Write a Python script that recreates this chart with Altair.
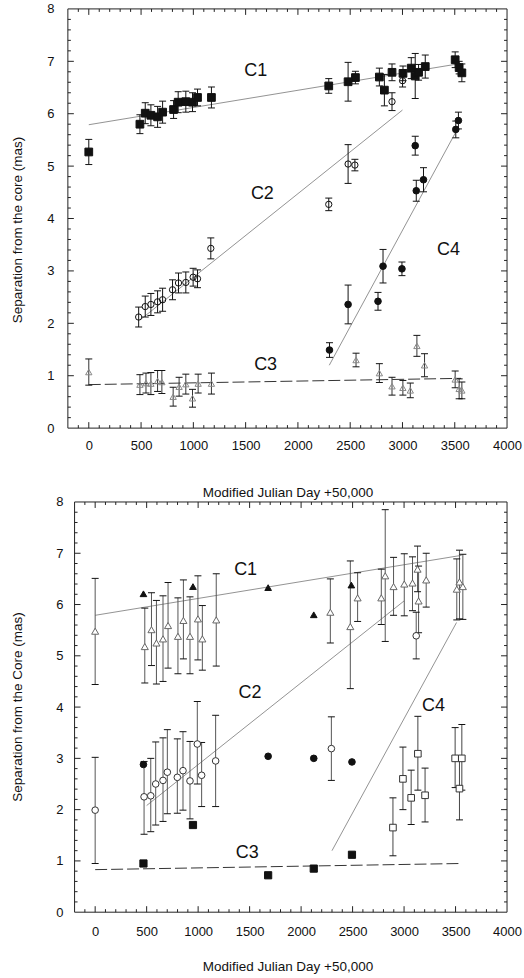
import altair as alt
import pandas as pd

FONT = "Liberation Sans"

# ---------------- axis tick values ----------------
x_label_values = [0, 500, 1000, 1500, 2000, 2500, 3000, 3500, 4000]
y_label_values = [0, 1, 2, 3, 4, 5, 6, 7, 8]
x_major_ticks = [0, 500, 1000, 1500, 2000, 2500, 3000, 3500]
x_minor_ticks = [v for v in range(-100, 4000, 100) if v % 500 != 0]
y_major_ticks = [1, 2, 3, 4, 5, 6, 7]
y_minor_ticks = [round(i * 0.2, 1) for i in range(1, 40) if i % 5 != 0]

# ---------------- top panel data ----------------
top_c1_x = [0, 489, 540, 594, 658, 706, 811, 855, 928, 992, 1040, 1173, 2295, 2480, 2550,
            2779, 2827, 2900, 3005, 3084, 3122, 3154, 3218, 3504, 3542, 3568]
top_c1_y = [5.27, 5.80, 6.01, 5.97, 5.94, 6.03, 6.08, 6.22, 6.23, 6.22, 6.31, 6.31, 6.53, 6.61, 6.69,
            6.70, 6.45, 6.79, 6.77, 6.87, 6.72, 6.79, 6.90, 7.03, 6.88, 6.78]
top_c1_e = [0.24, 0.18, 0.20, 0.20, 0.20, 0.21, 0.17, 0.20, 0.20, 0.18, 0.16, 0.20, 0.14, 0.37, 0.12,
            0.17, 0.30, 0.16, 0.14, 0.20, 0.43, 0.15, 0.22, 0.15, 0.12, 0.17]

top_c2_x = [477, 540, 594, 658, 706, 801, 858, 928, 998, 1040, 1167, 2295, 2480, 2545, 2900, 3001]
top_c2_y = [2.12, 2.32, 2.36, 2.41, 2.45, 2.64, 2.77, 2.78, 2.88, 2.85, 3.43, 4.27, 5.04, 5.02, 6.23, 6.63]
top_c2_e = [0.19, 0.20, 0.21, 0.21, 0.22, 0.19, 0.19, 0.20, 0.17, 0.17, 0.20, 0.12, 0.37, 0.11, 0.17, 0.12]

top_c4_x = [2302, 2480, 2766, 2814, 2995, 3122, 3132, 3201, 3510, 3535]
top_c4_y = [1.49, 2.36, 2.42, 3.09, 3.04, 5.39, 4.53, 4.74, 5.70, 5.87]
top_c4_e = [0.14, 0.37, 0.17, 0.32, 0.13, 0.18, 0.20, 0.23, 0.16, 0.16]

top_c3_x = [0, 489, 547, 594, 658, 699, 807, 864, 928, 992, 1046, 1173, 2556, 2779, 2900, 3004,
            3075, 3138, 3211, 3504, 3542, 3568]
top_c3_y = [1.07, 0.83, 0.86, 0.85, 0.90, 0.88, 0.60, 0.79, 0.84, 0.57, 0.85, 0.85, 1.30, 1.05, 0.80, 0.77,
            0.72, 1.57, 1.20, 0.93, 0.75, 0.72]
top_c3_e = [0.25, 0.19, 0.19, 0.21, 0.20, 0.22, 0.18, 0.18, 0.19, 0.17, 0.18, 0.20, 0.13, 0.18, 0.17, 0.14,
            0.14, 0.20, 0.22, 0.16, 0.19, 0.16]

# ---------------- bottom panel data ----------------
bot_otri_x = [0, 482, 547, 595, 659, 708, 804, 857, 921, 998, 1041, 1176, 2284, 2478, 2549, 2779, 2817,
              2898, 3002, 3082, 3131, 3141, 3215, 3512, 3538, 3571]
bot_otri_y = [5.48, 5.18, 5.51, 5.25, 5.33, 5.59, 5.38, 5.69, 5.38, 5.72, 5.33, 5.70, 5.85, 5.57, 6.13, 6.13,
              6.56, 6.35, 6.40, 6.42, 6.69, 6.07, 6.48, 6.30, 6.44, 6.35]
bot_otri_lo = [4.44, 4.47, 4.81, 4.45, 4.50, 4.76, 4.65, 4.94, 4.65, 4.92, 4.72, 4.80, 5.25, 4.36, 5.67, 5.61,
               5.28, 5.79, 5.78, 5.88, 6.25, 5.45, 5.95, 5.70, 5.72, 5.71]
bot_otri_hi = [6.51, 5.93, 6.23, 6.08, 6.17, 6.43, 6.13, 6.48, 6.15, 6.56, 5.98, 6.60, 6.50, 6.85, 6.62, 6.69,
               7.85, 6.92, 6.99, 6.93, 7.14, 6.75, 7.00, 6.89, 7.06, 6.98]

bot_ftri_x = [469, 950, 1680, 2123, 2488]
bot_ftri_y = [6.21, 6.35, 6.33, 5.80, 6.38]

bot_ocirc_x = [0, 475, 540, 588, 659, 701, 798, 853, 921, 992, 1034, 1170, 2294, 3118]
bot_ocirc_y = [1.99, 2.25, 2.27, 2.50, 2.57, 2.73, 2.63, 2.76, 2.56, 3.28, 2.67, 2.95, 3.19, 5.39]
bot_ocirc_lo = [0.95, 1.52, 1.57, 1.70, 1.77, 1.92, 1.93, 1.99, 1.82, 2.50, 2.06, 2.06, 2.57, 4.94]
bot_ocirc_hi = [3.02, 2.94, 3.00, 3.32, 3.40, 3.56, 3.38, 3.52, 3.33, 4.11, 3.31, 3.84, 3.81, 5.85]

bot_fcirc_x = [469, 1680, 2123, 2494]
bot_fcirc_y = [2.88, 3.04, 3.00, 2.93]

bot_osq_x = [2892, 2989, 3069, 3134, 3204, 3496, 3538, 3561]
bot_osq_y = [1.65, 2.60, 2.23, 3.09, 2.28, 3.00, 2.41, 3.00]
bot_osq_lo = [1.10, 2.00, 1.71, 2.38, 1.76, 2.43, 1.80, 2.38]
bot_osq_hi = [2.23, 3.22, 2.77, 3.82, 2.81, 3.60, 3.00, 3.66]

bot_fsq_x = [469, 950, 1680, 2123, 2494]
bot_fsq_y = [0.95, 1.70, 0.72, 0.85, 1.12]

# ---------------- linear fits (same in both panels) ----------------
fit_name = ["C1", "C2", "C4", "C3"]
fit_x0 = [0, 500, 2300, 0]
fit_x1 = [3560, 3000, 3510, 3560]
fit_y0 = [5.79, 2.08, 1.20, 0.83]
fit_y1 = [6.96, 6.07, 5.65, 0.95]

# ---------------- component labels ----------------
lab_text = ["C1", "C2", "C4", "C3"]
top_lab_x = [1596, 1660, 3440, 1691]
top_lab_y = [6.82, 4.47, 3.39, 1.20]
bot_lab_x = [1461, 1503, 3286, 1477]
bot_lab_y = [6.68, 4.28, 4.03, 1.16]

X_TITLE = "Modified Julian Day +50,000"


def sym(xs, ys, es):
    return pd.DataFrame({"x": xs, "y": ys,
                         "lo": [y - e for y, e in zip(ys, es)],
                         "hi": [y + e for y, e in zip(ys, es)]})


def asym(xs, ys, lo, hi):
    return pd.DataFrame({"x": xs, "y": ys, "lo": lo, "hi": hi})


def make_panel(W, H, xdom, frame_left, series, lab_x, lab_y, ytitle,
               xlab_pad, xtitle_pad, ylab_pad, ytitle_pad, ytitle_y):
    xs = alt.Scale(domain=xdom, nice=False, zero=False)
    ys = alt.Scale(domain=[0, 8], nice=False, zero=False)
    xaxis = alt.Axis(values=x_label_values, format="d", title=X_TITLE,
                     labelPadding=xlab_pad, titlePadding=xtitle_pad,
                     labelFlush=False, labelOverlap=False)
    yaxis = alt.Axis(values=y_label_values, format="d", title=ytitle,
                     labelPadding=ylab_pad, titlePadding=ytitle_pad, titleY=ytitle_y,
                     labelOverlap=False)

    def X(f):
        return alt.X(f, type="quantitative", scale=xs, axis=xaxis)

    def Y(f):
        return alt.Y(f, type="quantitative", scale=ys, axis=yaxis)

    layers = []
    frame_df = pd.DataFrame({"x0": [-200], "x1": [4000], "y0": [0], "y1": [8]})
    layers.append(alt.Chart(frame_df).mark_rect(filled=False, stroke="#222", strokeWidth=1).encode(
        x=X("x0"), x2="x1", y=Y("y0"), y2="y1"))

    for vals, ln in ((x_major_ticks, 6), (x_minor_ticks, 3)):
        d = pd.DataFrame({"v": vals})
        layers.append(alt.Chart(d).mark_rule(color="#222", strokeWidth=1).encode(
            x=X("v"), y=alt.value(H), y2=alt.value(H - ln)))
        layers.append(alt.Chart(d).mark_rule(color="#222", strokeWidth=1).encode(
            x=X("v"), y=alt.value(0), y2=alt.value(ln)))
    for vals, ln in ((y_major_ticks, 6), (y_minor_ticks, 3)):
        d = pd.DataFrame({"v": vals})
        layers.append(alt.Chart(d).mark_rule(color="#222", strokeWidth=1).encode(
            y=Y("v"), x=alt.value(frame_left), x2=alt.value(frame_left + ln)))
        layers.append(alt.Chart(d).mark_rule(color="#222", strokeWidth=1).encode(
            y=Y("v"), x=alt.value(W), x2=alt.value(W - ln)))

    fit_df = pd.DataFrame({"name": fit_name * 2, "x": fit_x0 + fit_x1, "y": fit_y0 + fit_y1})
    solid = fit_df[fit_df["name"] != "C3"]
    dashed = fit_df[fit_df["name"] == "C3"]
    layers.append(alt.Chart(solid).mark_line(color="#777", strokeWidth=0.8).encode(
        x=X("x"), y=Y("y"), detail="name:N"))
    layers.append(alt.Chart(dashed).mark_line(color="#333", strokeWidth=1, strokeDash=[12, 4]).encode(
        x=X("x"), y=Y("y")))

    for s in series:
        df = s["df"]
        if "lo" in df.columns:
            layers.append(alt.Chart(df).mark_rule(color=s.get("bar", "#111"), strokeWidth=1).encode(
                x=X("x"), y=Y("lo"), y2="hi"))
            caps = pd.concat([df[["x", "lo"]].rename(columns={"lo": "c"}),
                              df[["x", "hi"]].rename(columns={"hi": "c"})], ignore_index=True)
            layers.append(alt.Chart(caps).mark_tick(orient="horizontal", size=7, thickness=1,
                                                    color="#111", opacity=1).encode(
                x=X("x"), y=Y("c")))
    for s in series:
        df = s["df"]
        layers.append(alt.Chart(df).mark_point(shape=s["shape"], size=s["size"], filled=True,
                                               fill=s["fill"], stroke=s["stroke"],
                                               strokeWidth=1, opacity=1,
                                               fillOpacity=s.get("fo", 1)).encode(
            x=X("x"), y=Y("y")))

    lab_df = pd.DataFrame({"t": lab_text, "x": lab_x, "y": lab_y})
    layers.append(alt.Chart(lab_df).mark_text(fontSize=18, font=FONT, color="#111").encode(
        x=X("x"), y=Y("y"), text="t:N"))

    return alt.layer(*layers).properties(width=W, height=H)


top_series = [
    {"df": sym(top_c3_x, top_c3_y, top_c3_e), "shape": "triangle-up", "size": 40,
     "fill": "white", "fo": 0, "stroke": "#888", "bar": "#333"},
    {"df": sym(top_c2_x, top_c2_y, top_c2_e), "shape": "circle", "size": 40,
     "fill": "white", "fo": 0, "stroke": "#111"},
    {"df": sym(top_c4_x, top_c4_y, top_c4_e), "shape": "circle", "size": 44,
     "fill": "#111", "stroke": "#111"},
    {"df": sym(top_c1_x, top_c1_y, top_c1_e), "shape": "square", "size": 60,
     "fill": "#111", "stroke": "#111"},
]

bot_series = [
    {"df": asym(bot_otri_x, bot_otri_y, bot_otri_lo, bot_otri_hi), "shape": "triangle-up", "size": 50,
     "fill": "white", "stroke": "#666", "bar": "#555"},
    {"df": asym(bot_ocirc_x, bot_ocirc_y, bot_ocirc_lo, bot_ocirc_hi), "shape": "circle", "size": 44,
     "fill": "white", "stroke": "#333", "bar": "#555"},
    {"df": asym(bot_osq_x, bot_osq_y, bot_osq_lo, bot_osq_hi), "shape": "square", "size": 44,
     "fill": "white", "stroke": "#333", "bar": "#444"},
    {"df": pd.DataFrame({"x": bot_ftri_x, "y": bot_ftri_y}), "shape": "triangle-up", "size": 44,
     "fill": "#111", "stroke": "#111"},
    {"df": pd.DataFrame({"x": bot_fcirc_x, "y": bot_fcirc_y}), "shape": "circle", "size": 44,
     "fill": "#111", "stroke": "#111"},
    {"df": pd.DataFrame({"x": bot_fsq_x, "y": bot_fsq_y}), "shape": "square", "size": 52,
     "fill": "#111", "stroke": "#111"},
]

top = make_panel(440, 420, [-200, 4000], 0, top_series, top_lab_x, top_lab_y,
                 "Separation from the core (mas)", 11.5, 33, 14, 22, 221)
bottom = make_panel(440, 411, [-265, 4000], 440 * 65 / 4265, bot_series, bot_lab_x, bot_lab_y,
                    "Separation from the Core (mas)", 13.5, 21, 5, 31, 205)

chart = alt.vconcat(top, bottom, spacing=74, bounds="flush").configure_view(
    stroke=None
).configure_axis(
    labelFont=FONT, labelFontSize=13, labelColor="#111",
    titleFont=FONT, titleFontSize=13.5, titleFontWeight="normal", titleColor="#111",
    domain=False, ticks=False, grid=False
).properties(padding={"left": 10, "top": 2, "right": 2, "bottom": 3})

chart.save("out.html", embed_options={"renderer": "svg", "actions": False})
